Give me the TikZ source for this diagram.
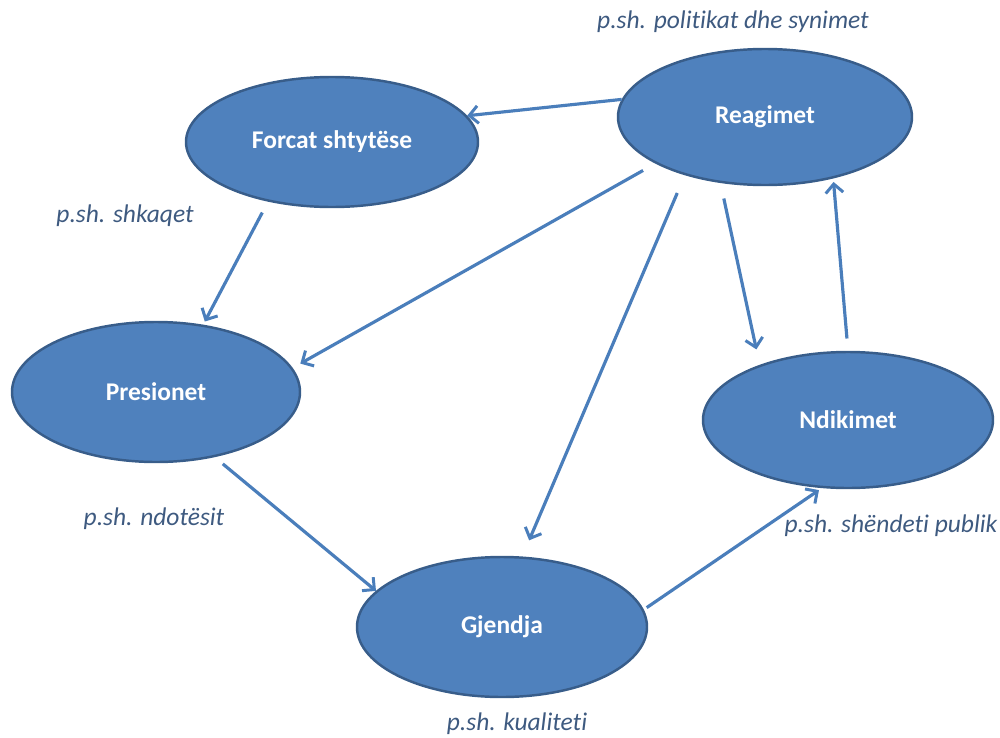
\documentclass[tikz,border=0pt]{standalone}
\usepackage{fontspec}
\setmainfont[RawFeature={-liga;-calt;-clig}]{Carlito}
\usetikzlibrary{shapes.geometric,arrows.meta}
\definecolor{ellfill}{HTML}{4F81BD}
\definecolor{elldraw}{HTML}{385D8A}
\definecolor{arrcol}{HTML}{4A7EBB}
\definecolor{labcol}{HTML}{3E5A80}
\begin{document}
\begin{tikzpicture}[x=0.02cm,y=-0.02cm,
  blob/.style={ellipse,fill=ellfill,draw=elldraw,line width=1.4pt,inner sep=0pt,
    text=white,font=\fontsize{14.5}{17}\selectfont\bfseries},
  lab/.style={text=labcol,font=\fontsize{14.5}{17}\selectfont\itshape,inner sep=0pt},
  arr/.style={draw=arrcol,line width=1.8pt,-{Straight Barb[length=5pt,width=10pt,line width=1.7pt]}}]
\useasboundingbox (0,0) rectangle (1000,737);
\node[blob,minimum width=292*0.02cm,minimum height=130*0.02cm] (forc) at (332,142) {Forcat shtytëse};
\node[blob,minimum width=294*0.02cm,minimum height=136*0.02cm] (reag) at (765,117) {Reagimet};
\node[blob,minimum width=288*0.02cm,minimum height=140*0.02cm] (pres) at (156,392) {Presionet};
\node[blob,minimum width=290*0.02cm,minimum height=136*0.02cm] (ndik) at (848,420) {Ndikimet};
\node[blob,minimum width=290*0.02cm,minimum height=140*0.02cm] (gjen) at (502,627) {Gjendja};
\node[lab] (l1) at (733,22) {p.sh. politikat dhe synimet};
\node[lab] (l2) at (125,216) {p.sh. shkaqet};
\node[lab] (l3) at (154,519) {p.sh. ndotësit};
\node[lab] (l4) at (891,526) {p.sh. shëndeti publik};
\node[lab] (l5) at (517,724) {p.sh. kualiteti};
\draw[arr] (reag.173) -- (forc.11.4);
\draw[arr,shorten <=7pt,shorten >=2pt] (forc.223) -- (pres.55.6);
\draw[arr,shorten <=8pt,shorten >=5pt] (reag.203.1) -- (pres.10.6);
\draw[arr,shorten <=11pt,shorten >=10pt] (reag.216.4) -- (gjen.74);
\draw[arr,shorten <=9pt,shorten >=9pt] (reag.236.3) -- (ndik.148);
\draw[arr,shorten <=7pt,shorten >=2pt] (ndik.90.7) -- (reag.318);
\draw[arr,shorten <=6pt] (pres.312.9) -- (gjen.164.5);
\draw[arr,shorten <=2pt,shorten >=2pt] (gjen.7.6) -- (ndik.249.6);
\end{tikzpicture}
\end{document}
